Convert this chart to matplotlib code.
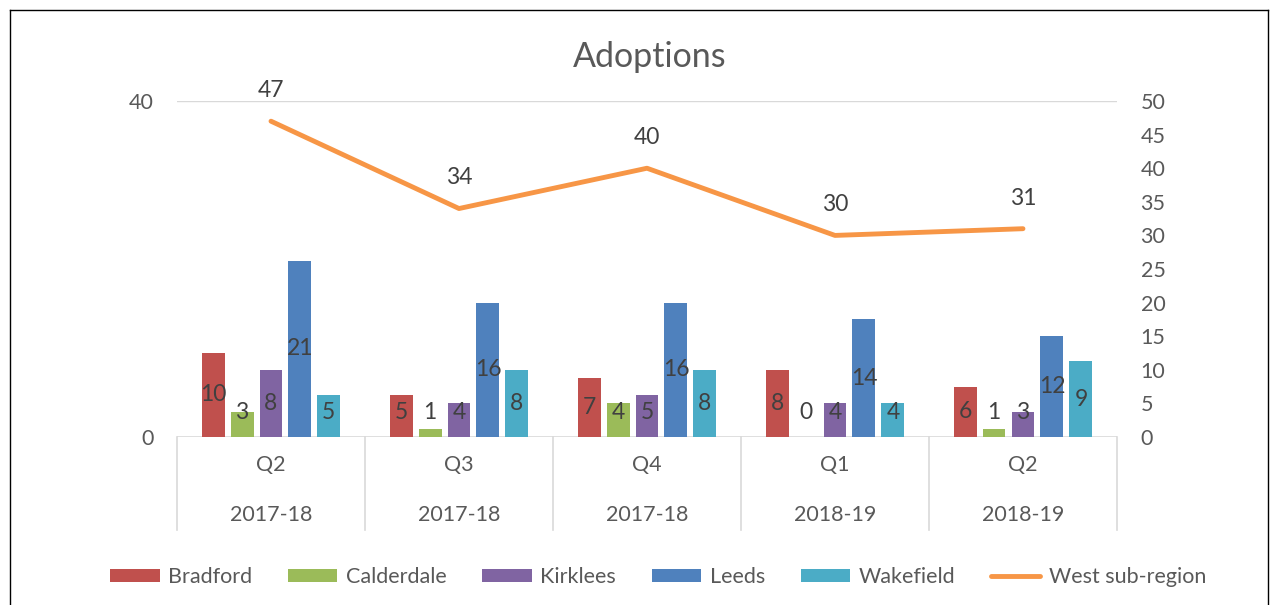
import numpy as np
import matplotlib.pyplot as plt
from matplotlib.lines import Line2D

plt.rcParams["font.family"] = ["Lato", "DejaVu Sans"]

quarters = ["Q2", "Q3", "Q4", "Q1", "Q2"]
years = ["2017-18", "2017-18", "2017-18", "2018-19", "2018-19"]

series = ["Bradford", "Calderdale", "Kirklees", "Leeds", "Wakefield"]
bradford = [10, 5, 7, 8, 6]
calderdale = [3, 1, 4, 0, 1]
kirklees = [8, 4, 5, 4, 3]
leeds = [21, 16, 16, 14, 12]
wakefield = [5, 8, 8, 4, 9]
west = [47, 34, 40, 30, 31]

colors = ["#C0504D", "#9BBB59", "#8064A2", "#4F81BD", "#4BACC6"]
line_color = "#F79646"
text_color = "#595959"
label_color = "#404040"
axis_color = "#D9D9D9"
FS = 15.5
LABEL_FS = 16.5


def main():
    fig = plt.figure(figsize=(12.78, 6.05), dpi=100)
    ax = fig.add_axes([0.1385, 0.2777, 0.7355, 0.5553])
    ax2 = ax.twinx()

    x = np.arange(len(quarters))
    step = 0.154
    width = 0.122
    data = [bradford, calderdale, kirklees, leeds, wakefield]
    for j, (name, vals, c) in enumerate(zip(series, data, colors)):
        xs = x + (j - 2) * step
        ax.bar(xs, vals, width=width, color=c, label=name, zorder=2)
        for xi, v in zip(xs, vals):
            ax.text(xi, max(v / 2, 2.9), str(v), ha="center", va="center",
                    fontsize=LABEL_FS, color=label_color, zorder=3)

    ax.set_xlim(-0.5, len(quarters) - 0.5)
    ax.set_ylim(0, 40)
    ax.set_yticks([0, 40])
    ax.axhline(40, color=axis_color, lw=1, zorder=1)
    ax.axhline(0, color=axis_color, lw=1.2, zorder=1)
    for s in ax.spines.values():
        s.set_visible(False)
    ax.set_xticks([])
    ax.tick_params(axis="y", length=0, pad=17, labelsize=FS, labelcolor=text_color)

    # category boxes
    tr = ax.get_xaxis_transform()
    for b in np.arange(len(quarters) + 1) - 0.5:
        ax.plot([b, b], [0, -0.277], color=axis_color, lw=1.2, transform=tr, clip_on=False)
    for xi, q, y in zip(x, quarters, years):
        ax.text(xi, -0.083, q, transform=tr, ha="center", va="center",
                fontsize=FS, color=text_color)
        ax.text(xi, -0.232, y, transform=tr, ha="center", va="center",
                fontsize=FS, color=text_color)

    ax2.plot(x, west, color=line_color, lw=3.5, solid_capstyle="round",
             label="West sub-region", zorder=4)
    for xi, v in zip(x, west):
        ax2.annotate(str(v), (xi, v), xytext=(0, 22), textcoords="offset points",
                     ha="center", va="center", fontsize=LABEL_FS, color=label_color)
    ax2.set_ylim(0, 50)
    ax2.set_yticks(np.arange(0, 51, 5))
    for s in ax2.spines.values():
        s.set_visible(False)
    ax2.tick_params(axis="y", length=0, pad=17, labelsize=FS, labelcolor=text_color)

    fig.text(0.508, 0.906, "Adoptions", ha="center", va="center",
             fontsize=24.5, color=text_color)

    h1, l1 = ax.get_legend_handles_labels()
    h2, l2 = ax2.get_legend_handles_labels()
    fig.legend(h1 + h2, l1 + l2, loc="center", bbox_to_anchor=(0.515, 0.046),
               ncol=6, frameon=False, fontsize=FS, labelcolor=text_color,
               handlelength=2.3, handleheight=0.6, handletextpad=0.4,
               columnspacing=1.65)

    # outer chart border
    for xs_, ys_ in [([0.008, 0.008], [0.0, 0.984]),
                     ([0.008, 0.992], [0.984, 0.984]),
                     ([0.992, 0.992], [0.0, 0.984])]:
        fig.add_artist(Line2D(xs_, ys_, color="black", lw=1, transform=fig.transFigure))

    fig.savefig("out.png", dpi=100)


if __name__ == "__main__":
    main()
